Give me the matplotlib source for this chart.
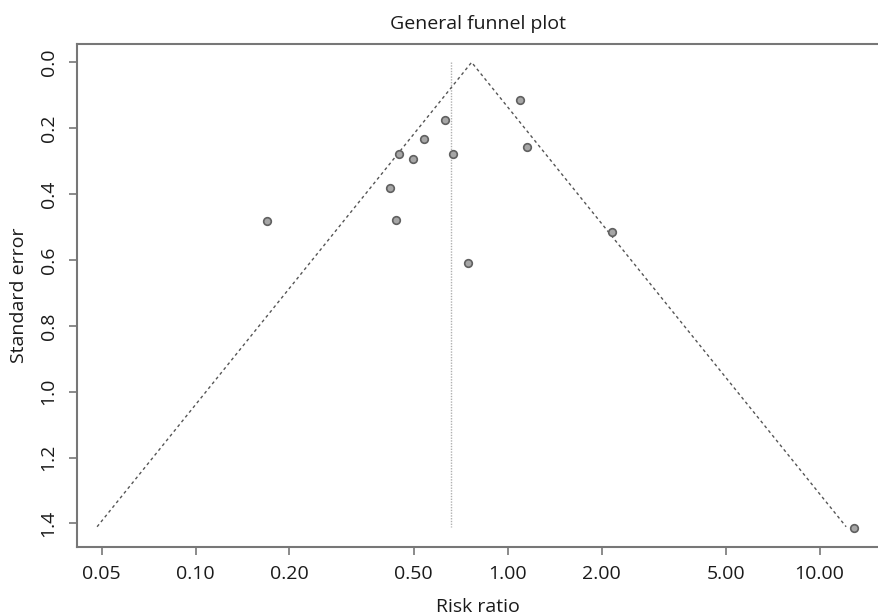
import numpy as np
import matplotlib
matplotlib.use("Agg")
import matplotlib.pyplot as plt
from matplotlib.ticker import FixedLocator, FixedFormatter, NullLocator

# Data
risk_ratio = [0.170, 0.439, 0.419, 0.450, 0.498, 0.538, 0.629, 0.667, 0.748, 1.096, 1.154, 2.161, 12.9]
std_error = [0.481, 0.479, 0.381, 0.279, 0.2945, 0.234, 0.174, 0.278, 0.608, 0.1135, 0.258, 0.515, 1.413]
funnel_center = 0.767
ref_line = 0.658
se_bottom = 1.41
x_ticks = [0.05, 0.10, 0.20, 0.50, 1.00, 2.00, 5.00, 10.00]
x_tick_labels = ["0.05", "0.10", "0.20", "0.50", "1.00", "2.00", "5.00", "10.00"]
y_ticks = [0.0, 0.2, 0.4, 0.6, 0.8, 1.0, 1.2, 1.4]
y_tick_labels = ["0.0", "0.2", "0.4", "0.6", "0.8", "1.0", "1.2", "1.4"]

plt.rcParams['font.family'] = ['Open Sans', 'DejaVu Sans']

W, H = 879, 615
fig = plt.figure(figsize=(W / 100, H / 100), dpi=100)
ax = fig.add_axes([77 / W, 1 - 546.7 / H, 1 - 77 / W, (546.7 - 44) / H])

ax.set_xscale('log')
ax.set_xlim(0.0417, 15.5)
ax.set_ylim(1.4706, -0.0556)

# funnel
z = 1.96
lc = np.log(funnel_center)
ax.plot([np.exp(lc - z * se_bottom), funnel_center, np.exp(lc + z * se_bottom)],
        [se_bottom, 0.0, se_bottom], color='#555555', lw=1.0,
        linestyle=(0, (2.2, 2.2)), zorder=2)
ax.plot([ref_line, ref_line], [0.0, se_bottom], color='#b0b0b0', lw=1.0,
        linestyle=(0, (1, 1)), zorder=1)

ax.scatter(risk_ratio, std_error, s=30, facecolor='#a6a6a6', edgecolor='#606060',
           linewidths=1.2, zorder=3)

ax.xaxis.set_major_locator(FixedLocator(x_ticks))
ax.xaxis.set_major_formatter(FixedFormatter(x_tick_labels))
ax.xaxis.set_minor_locator(NullLocator())
ax.yaxis.set_major_locator(FixedLocator(y_ticks))
ax.yaxis.set_major_formatter(FixedFormatter(y_tick_labels))

for s in ['left', 'bottom', 'top']:
    ax.spines[s].set_color('#777777')
    ax.spines[s].set_linewidth(1.5)
ax.spines['right'].set_visible(False)

ax.tick_params(axis='both', direction='out', length=6, width=1.2, color='#777777',
               labelsize=14, labelcolor='#1a1a1a')
ax.tick_params(axis='x', pad=7)
ax.tick_params(axis='y', pad=8)
for lab in ax.get_yticklabels():
    lab.set_rotation(90)
    lab.set_va('center')

ax.set_title("General funnel plot", fontsize=14, color='#1a1a1a', pad=11)
ax.set_xlabel("Risk ratio", fontsize=14, color='#1a1a1a', labelpad=11)
ax.set_ylabel("Standard error", fontsize=14, color='#1a1a1a', labelpad=8)

fig.savefig("out.png", dpi=100)
